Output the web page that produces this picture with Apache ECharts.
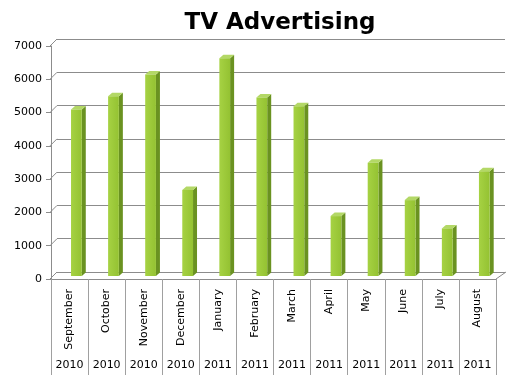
<!DOCTYPE html>
<html><head><meta charset="utf-8">
<script src="https://cdn.jsdelivr.net/npm/echarts@6/dist/echarts.min.js"></script>
<style>html,body{margin:0;padding:0;background:#fff}#c{width:521px;height:384px}</style>
</head><body><div id="c"></div>
<script>
const months = ['September','October','November','December','January','February','March','April','May','June','July','August'];
const years = ['2010','2010','2010','2010','2011','2011','2011','2011','2011','2011','2011','2011'];
const values = [5000, 5400, 6050, 2580, 6540, 5360, 5100, 1800, 3400, 2280, 1430, 3150];
const yTicks = [0, 1000, 2000, 3000, 4000, 5000, 6000, 7000];

const FONT = 'DejaVu Sans';
const GRID = '#8c8c8c';

const chart = echarts.init(document.getElementById('c'), null, {renderer: 'canvas'});

function barItem(params, api) {
  const i = api.value(0), v = api.value(1);
  const top = api.coord([i, v]);
  const base = api.coord([i, 0]);
  const band = api.size([1, 0])[0];
  const cx = top[0];
  const x0 = cx + band * 0.04, x1 = cx + band * 0.33;
  const dx = 4, dy = 3.5, lift = 3;
  const yt = top[1] - lift, yb = base[1] - lift;
  return {
    type: 'group',
    children: [
      {type: 'polygon', shape: {points: [[x1, yt], [x1 + dx, yt - dy], [x1 + dx, yb - dy], [x1, yb]]},
       style: {fill: '#6a9221'}},
      {type: 'polygon', shape: {points: [[x0, yt], [x1, yt], [x1 + dx, yt - dy], [x0 + dx, yt - dy]]},
       style: {fill: '#b3d866'}},
      {type: 'rect', shape: {x: x0, y: yt, width: x1 - x0, height: yb - yt},
       style: {fill: new echarts.graphic.LinearGradient(0, 0, 1, 0, [
         {offset: 0, color: '#a6d243'}, {offset: 1, color: '#94c232'}])}}
    ]
  };
}

function connectorItem(params, api) {
  const v = api.value(0);
  const cs = params.coordSys;
  const p = api.coord([0, v]);
  const y = p[1];
  const children = [
    {type: 'line', shape: {x1: cs.x - 1, y1: y, x2: cs.x + 6, y2: y - 7}, style: {stroke: GRID, lineWidth: 1}}
  ];
  if (v === 0) {
    children.push({type: 'line', shape: {x1: cs.x + cs.width, y1: y, x2: cs.x + cs.width + 10, y2: y - 7},
      style: {stroke: GRID, lineWidth: 1}});
  }
  return {type: 'group', children};
}

chart.setOption({
  animation: false,
  backgroundColor: '#fff',
  title: {
    text: 'TV Advertising', left: 275, textAlign: 'center', top: 7,
    textStyle: {fontFamily: FONT, fontWeight: 'bold', fontSize: 23, color: '#000'}
  },
  grid: [
    {left: 51, right: 25, top: 46, bottom: 105},
    {left: 57, right: 16, top: 39, bottom: 112}
  ],
  xAxis: [
    {gridIndex: 0, type: 'category', data: months, position: 'bottom',
     axisLine: {show: true, lineStyle: {color: GRID}},
     axisTick: {show: true, length: 96, alignWithLabel: false, lineStyle: {color: '#a0a0a0'}},
     axisLabel: {rotate: 90, margin: 10, fontFamily: FONT, fontSize: 11, color: '#000', interval: 0}},
    {gridIndex: 0, type: 'category', data: years, position: 'bottom', offset: 73,
     axisLine: {show: false}, axisTick: {show: false},
     axisLabel: {margin: 8, fontFamily: FONT, fontSize: 11, color: '#000', interval: 0}},
    {gridIndex: 1, type: 'category', data: months, show: false}
  ],
  yAxis: [
    {gridIndex: 0, type: 'value', min: 0, max: 7000, interval: 1000,
     axisLine: {show: true, lineStyle: {color: GRID}},
     axisTick: {show: true, length: 5, lineStyle: {color: GRID}},
     axisLabel: {margin: 9, fontFamily: FONT, fontSize: 11, color: '#000', formatter: v => String(v)},
     splitLine: {show: false}},
    {gridIndex: 1, type: 'value', min: 0, max: 7000, interval: 1000,
     axisLine: {show: false}, axisTick: {show: false}, axisLabel: {show: false},
     splitLine: {show: true, lineStyle: {color: GRID, width: 1}}}
  ],
  series: [
    {type: 'custom', xAxisIndex: 0, yAxisIndex: 0, renderItem: connectorItem,
     data: yTicks.map(v => [v]), encode: {y: 0}, silent: true, z: 1},
    {type: 'custom', xAxisIndex: 0, yAxisIndex: 0, renderItem: barItem,
     data: values.map((v, i) => [i, v]), encode: {x: 0, y: 1}, z: 5}
  ]
});
</script>
</body></html>
